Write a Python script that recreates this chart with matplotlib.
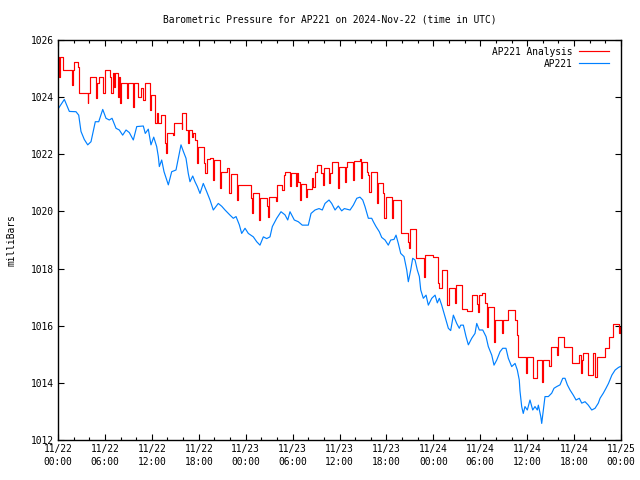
import matplotlib
matplotlib.use("Agg")
import matplotlib.pyplot as plt

# ===============================
# Data (hours since 2024-11-22 00:00 UTC, pressure in mbar)
# ===============================
obs_hours = [
    0.09, 0.81, 1.45, 2.30, 2.65, 2.94, 3.36, 3.80, 4.22, 4.77, 5.21, 5.72,
    6.14, 6.56, 6.91, 7.42, 7.84, 8.27, 8.70, 9.12, 9.63, 10.07, 10.91, 11.16,
    11.55, 11.89, 12.24, 12.62, 12.83, 12.96, 13.26, 13.56, 14.11, 14.54, 15.09,
    15.39, 15.73, 16.03, 16.37, 16.66, 16.88, 17.23, 17.52, 17.82, 18.16, 18.58,
    19.02, 19.44, 19.86, 20.50, 20.94, 21.36, 22.00, 22.42, 22.77, 23.19, 23.49,
    23.92, 24.34, 24.98, 25.41, 25.83, 26.26, 26.69, 27.11, 27.41, 27.97, 28.52,
    29.03, 29.38, 29.67, 30.22, 30.73, 31.24, 32.01, 32.36, 32.87, 33.38, 33.80,
    34.15, 34.66, 35.00, 35.43, 35.85, 36.28, 36.62, 37.35, 37.77, 38.21, 38.62,
    38.97, 39.26, 39.69, 40.12, 40.33, 40.67, 41.09, 41.40, 41.82, 42.24, 42.55,
    42.97, 43.23, 43.52, 43.83, 44.25, 44.60, 44.80, 45.11, 45.36, 45.66, 45.95,
    46.21, 46.39, 46.72, 47.07, 47.36, 47.80, 48.22, 48.51, 48.77, 49.07, 49.49,
    49.92, 50.22, 50.56, 50.99, 51.32, 51.50, 51.84, 52.18, 52.48, 52.91, 53.33,
    53.55, 53.88, 54.32, 54.74, 55.03, 55.47, 55.76, 56.11, 56.53, 56.87, 57.29,
    57.59, 58.02, 58.45, 58.74, 58.99, 59.08, 59.30, 59.50, 59.72, 60.02, 60.36,
    60.71, 61.00, 61.30, 61.43, 61.74, 61.86, 62.07, 62.28, 62.71, 63.14, 63.43,
    63.78, 64.20, 64.55, 64.84, 65.14, 65.48, 65.90, 66.25, 66.67, 66.98, 67.40,
    67.82, 68.26, 68.68, 69.10, 69.32, 69.74, 70.08, 70.40, 70.83, 71.25, 71.68,
    71.90,
]
obs_mbar = [
    1023.62, 1023.92, 1023.50, 1023.49, 1023.37, 1022.80, 1022.52, 1022.33,
    1022.44, 1023.14, 1023.14, 1023.57, 1023.26, 1023.20, 1023.26, 1022.91,
    1022.85, 1022.67, 1022.85, 1022.76, 1022.50, 1022.97, 1022.99, 1022.73,
    1022.88, 1022.33, 1022.60, 1022.27, 1021.92, 1021.57, 1021.80, 1021.39,
    1020.93, 1021.39, 1021.45, 1021.86, 1022.33, 1022.10, 1021.86, 1021.33,
    1021.04, 1021.24, 1021.04, 1020.87, 1020.63, 1020.98, 1020.69, 1020.40,
    1020.05, 1020.28, 1020.18, 1020.05, 1019.87, 1019.76, 1019.82, 1019.53,
    1019.23, 1019.41, 1019.23, 1019.11, 1018.94, 1018.82, 1019.11, 1019.05,
    1019.11, 1019.47, 1019.76, 1019.99, 1019.88, 1019.70, 1019.99, 1019.70,
    1019.64, 1019.52, 1019.52, 1019.93, 1020.05, 1020.10, 1020.05, 1020.28,
    1020.40, 1020.28, 1020.05, 1020.19, 1020.02, 1020.10, 1020.05, 1020.22,
    1020.46, 1020.50, 1020.40, 1020.17, 1019.76, 1019.76, 1019.64, 1019.47,
    1019.29, 1019.09, 1019.00, 1018.82, 1019.00, 1019.02, 1019.17, 1018.88,
    1018.53, 1018.42, 1017.95, 1017.54, 1017.95, 1018.36, 1018.30, 1017.95,
    1017.72, 1017.25, 1016.96, 1017.07, 1016.72, 1016.96, 1017.07, 1016.80,
    1016.96, 1016.72, 1016.32, 1015.91, 1015.83, 1016.37, 1016.08, 1015.91,
    1016.02, 1016.02, 1015.62, 1015.33, 1015.56, 1015.73, 1016.08, 1015.85,
    1015.85, 1015.62, 1015.27, 1014.97, 1014.62, 1014.80, 1015.09, 1015.21,
    1015.21, 1014.86, 1014.57, 1014.68, 1014.45, 1014.10, 1013.72, 1013.17,
    1012.93, 1013.17, 1013.05, 1013.40, 1013.05, 1013.17, 1013.05, 1013.22,
    1012.82, 1012.58, 1013.05, 1013.52, 1013.52, 1013.64, 1013.81, 1013.87,
    1013.93, 1014.16, 1014.16, 1013.93, 1013.75, 1013.57, 1013.40, 1013.46,
    1013.29, 1013.34, 1013.22, 1013.05, 1013.11, 1013.29, 1013.46, 1013.64,
    1013.81, 1013.98, 1014.27, 1014.45, 1014.54, 1014.57,
]

ana_hours = [
    0.00, 0.17, 0.23, 0.68, 1.79, 1.89, 2.08, 2.52, 2.72, 3.80, 3.88, 4.13,
    4.86, 4.95, 5.28, 5.72, 6.05, 6.65, 6.78, 7.00, 7.21, 7.33, 7.64, 7.76,
    7.93, 8.06, 8.82, 8.91, 9.63, 9.76, 10.19, 10.62, 10.91, 11.16, 11.77,
    11.86, 12.24, 12.41, 12.62, 12.83, 13.14, 13.68, 13.81, 13.98, 14.66,
    14.84, 15.60, 15.82, 15.90, 16.24, 16.37, 16.66, 16.75, 17.09, 17.30,
    17.52, 17.74, 17.94, 18.67, 18.80, 19.02, 19.44, 19.79, 19.89, 20.72,
    20.85, 21.65, 21.83, 21.91, 22.13, 22.85, 23.06, 24.68, 24.77, 24.98,
    25.71, 25.83, 26.69, 26.82, 26.99, 27.84, 27.97, 28.69, 28.87, 29.03,
    29.67, 29.80, 30.44, 30.53, 30.73, 30.95, 31.08, 31.72, 31.81, 32.45,
    32.65, 32.87, 33.08, 33.63, 33.85, 34.02, 34.66, 34.79, 35.00, 35.85,
    35.98, 36.70, 36.83, 37.00, 37.77, 37.88, 38.62, 38.75, 38.87, 39.56,
    39.69, 39.82, 39.99, 40.76, 40.89, 41.60, 41.73, 41.89, 42.68, 42.80,
    43.83, 44.71, 44.84, 45.01, 45.78, 46.85, 46.98, 48.00, 48.63, 48.76,
    49.07, 49.71, 49.79, 50.04, 50.77, 50.89, 51.63, 52.35, 52.91, 53.55,
    53.76, 53.88, 54.19, 54.61, 54.83, 54.99, 55.76, 55.89, 56.76, 56.85,
    57.59, 58.45, 58.66, 58.87, 59.85, 59.97, 60.71, 61.23, 61.86, 61.99,
    62.83, 63.01, 63.78, 63.88, 63.99, 64.71, 65.70, 66.67, 66.85, 66.98,
    67.10, 67.82, 68.46, 68.68, 68.97, 69.94, 70.49, 71.00, 71.77, 71.86,
    72.00,
]
ana_mbar = [
    1025.42, 1024.72, 1025.42, 1024.95, 1024.43, 1024.95, 1025.24, 1025.07,
    1024.13, 1023.78, 1024.13, 1024.72, 1023.96, 1024.48, 1024.72, 1024.13,
    1024.95, 1024.72, 1024.13, 1024.84, 1024.34, 1024.84, 1024.02, 1024.72,
    1023.78, 1024.48, 1023.96, 1024.48, 1023.67, 1024.48, 1024.02, 1024.31,
    1023.90, 1024.48, 1023.55, 1024.08, 1024.08, 1023.08, 1023.43, 1023.08,
    1023.37, 1022.38, 1022.03, 1022.73, 1022.67, 1023.08, 1023.08, 1022.90,
    1023.43, 1023.43, 1022.85, 1022.38, 1022.85, 1022.62, 1022.73, 1022.50,
    1021.68, 1022.27, 1021.68, 1021.33, 1021.82, 1021.86, 1021.10, 1021.80,
    1020.81, 1021.39, 1021.51, 1021.10, 1020.65, 1021.31, 1020.40, 1020.93,
    1020.46, 1019.93, 1020.63, 1019.70, 1020.46, 1020.20, 1019.80, 1020.52,
    1020.35, 1020.93, 1020.75, 1021.27, 1021.39, 1020.90, 1021.33, 1020.90,
    1021.33, 1021.04, 1020.40, 1020.96, 1020.50, 1020.80, 1021.16, 1020.85,
    1021.39, 1021.62, 1021.33, 1020.93, 1021.51, 1020.98, 1021.33, 1021.74,
    1020.81, 1021.57, 1021.04, 1021.57, 1021.74, 1021.10, 1021.78, 1021.82,
    1021.16, 1021.74, 1021.39, 1021.28, 1020.69, 1021.39, 1020.28, 1020.98,
    1020.63, 1019.76, 1020.52, 1019.76, 1020.40, 1019.23, 1018.94, 1018.71,
    1019.38, 1018.36, 1017.72, 1018.47, 1018.39, 1017.48, 1017.31, 1017.95,
    1017.25, 1016.72, 1017.31, 1016.78, 1017.42, 1016.60, 1016.50, 1017.07,
    1016.75, 1016.49, 1017.07, 1017.13, 1016.78, 1015.97, 1016.67, 1015.44,
    1016.20, 1015.73, 1016.20, 1016.55, 1016.20, 1015.67, 1014.92, 1014.33,
    1014.92, 1014.16, 1014.80, 1014.04, 1014.80, 1014.60, 1015.27, 1014.97,
    1015.27, 1015.59, 1015.27, 1014.68, 1014.97, 1014.33, 1014.80, 1015.03,
    1014.27, 1015.03, 1014.22, 1014.90, 1015.21, 1015.62, 1016.06, 1015.73,
    1015.97, 1015.97,
]

tick_hours = [0, 6, 12, 18, 24, 30, 36, 42, 48, 54, 60, 66, 72]
tick_labels = [
    "11/22\n00:00", "11/22\n06:00", "11/22\n12:00", "11/22\n18:00",
    "11/23\n00:00", "11/23\n06:00", "11/23\n12:00", "11/23\n18:00",
    "11/24\n00:00", "11/24\n06:00", "11/24\n12:00", "11/24\n18:00",
    "11/25\n00:00",
]
y_ticks = [1012, 1014, 1016, 1018, 1020, 1022, 1024, 1026]

# ===============================
# Plot
# ===============================
plt.rcParams["font.family"] = "DejaVu Sans Mono"
plt.rcParams["font.size"] = 6.9

fig = plt.figure(figsize=(6.4, 4.8), dpi=100)
ax = fig.add_axes([58 / 640, 40 / 480, 563 / 640, 400 / 480])

ax.plot(ana_hours, ana_mbar, color="#ff0000", lw=0.85,
        drawstyle="steps-post", label="AP221 Analysis")
ax.plot(obs_hours, obs_mbar, color="#0080ff", lw=0.85, label="AP221")

ax.set_xlim(0, 72)
ax.set_ylim(1012, 1026)
ax.set_xticks(tick_hours)
ax.set_xticklabels(tick_labels, linespacing=1.3)
ax.set_xticks(range(0, 73, 2), minor=True)
ax.set_yticks(y_ticks)

ax.tick_params(which="both", direction="in", top=True, right=True,
               color="black", width=0.8)
ax.tick_params(which="major", length=4.5, pad=3)
ax.tick_params(which="minor", length=2.5)
ax.tick_params(axis="y", which="minor", left=False, right=False)
for s in ax.spines.values():
    s.set_linewidth(1.0)

ax.set_ylabel("milliBars", labelpad=10)
fig.text(330 / 640, 1 - 19 / 480,
         "Barometric Pressure for AP221 on 2024-Nov-22 (time in UTC)",
         ha="center", va="center")

ax.legend(loc="upper right", bbox_to_anchor=(1 - 5 / 563, 1),
          frameon=False, markerfirst=False,
          handlelength=3.2, handletextpad=0.6, borderaxespad=0.3,
          labelspacing=0.2)

fig.savefig("out.png", dpi=100)
